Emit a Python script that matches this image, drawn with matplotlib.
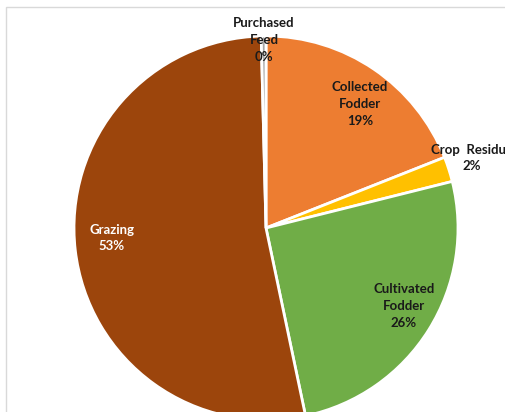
"""Feed source shares as a pie chart."""
import matplotlib.pyplot as plt
from matplotlib.patches import Rectangle

plt.rcParams["font.family"] = ["Lato", "DejaVu Sans"]

# feed sources, clockwise from 12 o'clock
sources = ["Collected\nFodder", "Crop  Residue", "Cultivated\nFodder", "Grazing", "Purchased\nFeed"]
shares = [19.0, 2.1, 25.6, 52.9, 0.4]
colors = ["#ED7D31", "#FFC000", "#70AD47", "#9C450C", "#A5A5A5"]
text_colors = ["#1a1a1a", "#1a1a1a", "#1a1a1a", "white", "#1a1a1a"]

# label centres in pixels from the top-left corner
label_xy = [(360, 104), (472, 158), (404, 306), (112, 238), (264, 40)]

W, H = 506, 412
fig = plt.figure(figsize=(W / 100, H / 100), dpi=100)
ax = fig.add_axes([0, 0, 1, 1])

ax.pie(shares, colors=colors, startangle=90, counterclock=False,
       center=(266, H - 228), radius=192,
       wedgeprops=dict(edgecolor="white", linewidth=2))

ax.set_xlim(0, W)
ax.set_ylim(0, H)
ax.set_aspect("equal")
ax.axis("off")

total = sum(shares)
for name, val, tc, (x, y) in zip(sources, shares, text_colors, label_xy):
    ax.text(x, H - y, f"{name}\n{val / total * 100:.0f}%", ha="center", va="center",
            fontsize=9.5, fontweight="bold", color=tc, linespacing=1.5)

# chart area border
fig.patches.append(Rectangle((6, -10), W + 20, H - 7 + 10, transform=None,
                             fill=False, edgecolor="#D9D9D9", linewidth=1))

fig.savefig("out.png", dpi=100)
